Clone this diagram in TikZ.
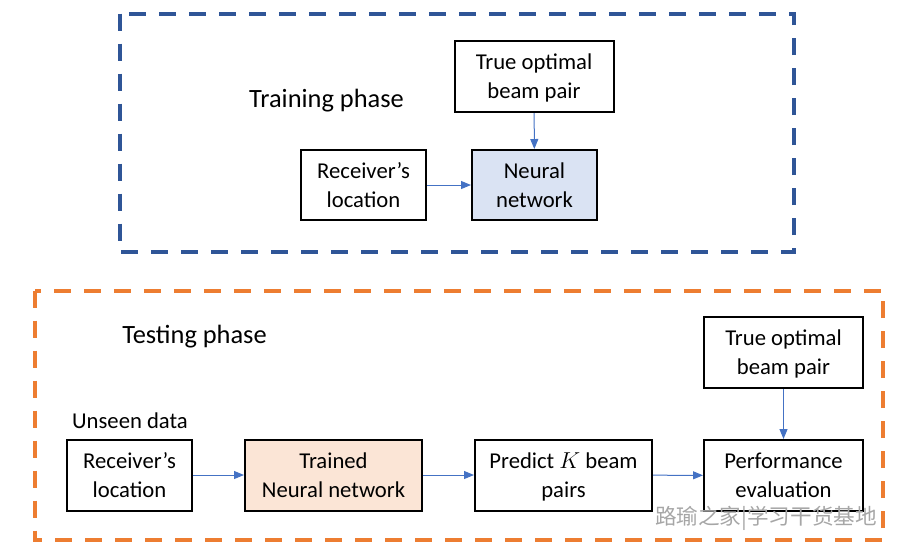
\documentclass[tikz,border=0pt]{standalone}
\usepackage{fontspec}
\setmainfont{Carlito}
\newfontfamily\cjkfont{Noto Sans CJK SC}
\usetikzlibrary{arrows.meta}

\definecolor{frameblue}{RGB}{47,85,151}
\definecolor{frameorange}{RGB}{237,125,49}
\definecolor{linkblue}{RGB}{68,114,196}
\definecolor{nnfill}{RGB}{218,227,243}
\definecolor{trainedfill}{RGB}{251,229,214}

\tikzset{every picture/.style={line width=0.75pt}}

\begin{document}
\begin{tikzpicture}[x=0.75pt,y=0.75pt,yscale=-1,xscale=1,
  blk/.style={draw=black, line width=1.5pt, align=center, inner sep=0pt, text depth=0pt,
    font=\fontsize{17}{21.75}\selectfont},
  smallblk/.style={blk, minimum width=93.75pt, minimum height=52.5pt},
  wideblk/.style={blk, minimum width=132.75pt, minimum height=53.25pt},
  truthblk/.style={blk, minimum width=119.25pt, minimum height=53.25pt},
  flow/.style={draw=linkblue, line width=0.75pt, -{Triangle[length=7.5pt,width=6pt]}},
  phaseframe/.style={line width=3pt, dash pattern=on 12.75pt off 9.75pt},
  phasetitle/.style={font=\fontsize{19.8}{23}\selectfont, inner sep=0pt}
]
\path[use as bounding box] (0,0) rectangle (909,558);

%Training phase frame
\draw [phaseframe, draw=frameblue] (119.5,13.5) rectangle (794,252) ;
%Testing phase frame
\draw [phaseframe, draw=frameorange] (34.5,290.5) rectangle (883,540) ;

% Text Node
\node [phasetitle] (traintitle) at (326.5,101) {Training phase};
% Text Node
\node [phasetitle] (testtitle) at (194.5,337) {Testing phase};
% Text Node
\node [font=\fontsize{17}{20}\selectfont, inner sep=0pt] (unseen) at (130,421) {Unseen data};

%Training blocks
\node [truthblk] (trainTruth) at (534,76.5) {True optimal\\beam pair};
\node [smallblk, fill=nnfill] (trainNN) at (534.5,185) {Neural\\network};
\node [smallblk] (trainRx) at (363.5,185) {Receiver’s\\location};

%Testing blocks
\node [truthblk] (testTruth) at (783.5,352.5) {True optimal\\beam pair};
\node [smallblk, minimum height=53.25pt] (testRx) at (129.5,475) {Receiver’s\\location};
\node [wideblk, fill=trainedfill] (testNN) at (333.5,475) {Trained\\Neural network};
\node [wideblk] (predict) at (563.5,475) {Predict $K$ beam\\pairs};
\node [truthblk] (perf) at (783.5,475.5) {Performance\\evaluation};

%Arrows
\draw [flow] (trainTruth) -- (trainNN) ;
\draw [flow] (trainRx) -- (trainNN) ;
\draw [flow] (testRx) -- (testNN) ;
\draw [flow] (testNN) -- (predict) ;
\draw [flow] (predict) -- (perf) ;
\draw [flow] (testTruth) -- (perf) ;

% Text Node
\node [font=\cjkfont\fontsize{16.2}{16}\selectfont, text=gray!70, inner sep=0pt] (mark) at (766,518) {路瑜之家|学习干货基地};

\end{tikzpicture}
\end{document}
